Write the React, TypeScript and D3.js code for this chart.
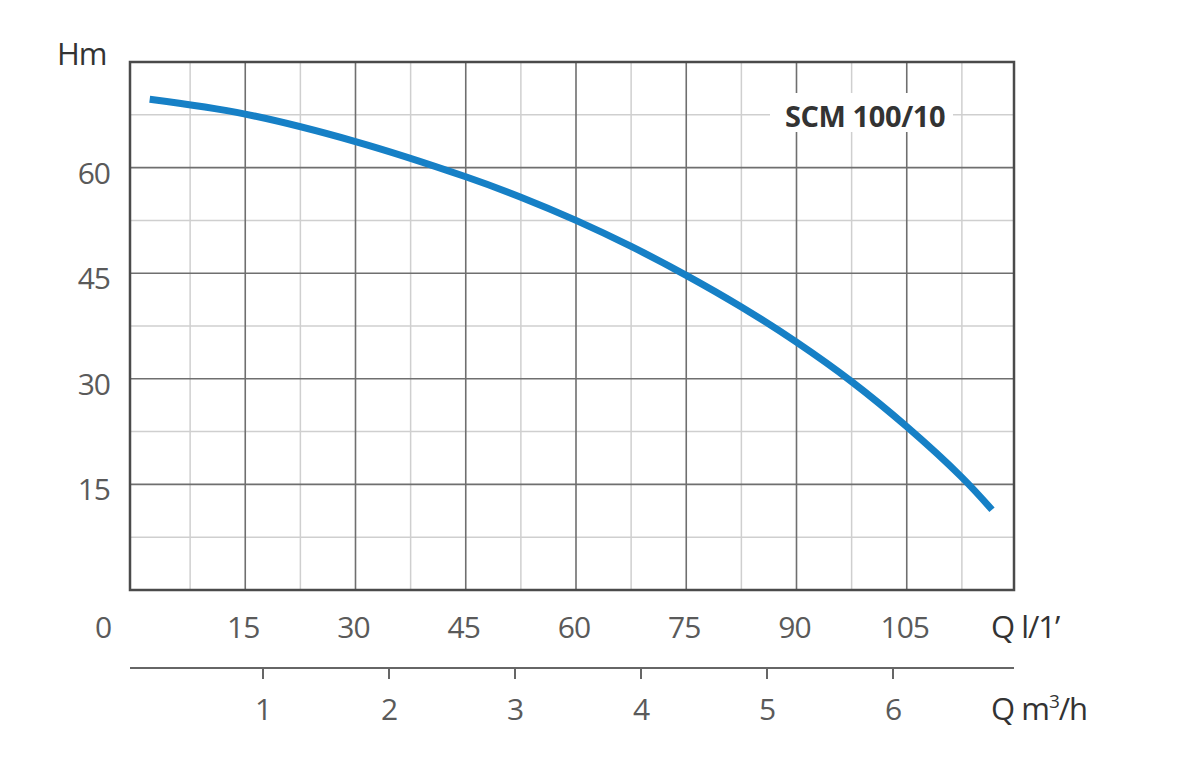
import React, { useEffect, useRef } from "react";
import * as d3 from "d3";

// pump curve: flow in l/min, head in m
const flowLmin = [2, 15, 30, 45, 52.5, 60, 67.5, 75, 82.5, 90, 97.5, 105, 112.5, 116.6];
const headM = [69.7, 67.6, 63.7, 58.7, 55.8, 52.5, 48.8, 44.7, 40.2, 35.2, 29.6, 23.2, 16.0, 11.4];

const xTicks = [15, 30, 45, 60, 75, 90, 105];
const yTicks = [15, 30, 45, 60];
const m3hTicks = [1, 2, 3, 4, 5, 6];
const modelName = "SCM 100/10";

const W = 1200;
const H = 781;
// frame of the plot
const left = 130;
const right = 1014;
const top = 62;
const bottom = 590;

const FONT = "'Open Sans', 'DejaVu Sans', sans-serif";

const App: React.FC = () => {
  const svgRef = useRef<SVGSVGElement>(null);

  useEffect(() => {
    if (!svgRef.current) return;
    const svg = d3.select(svgRef.current);
    svg.selectAll("*").remove();

    // grid in the original starts a few px right of the frame
    const x = d3.scaleLinear().domain([0, 120]).range([135, 1017]);
    const y = d3.scaleLinear().domain([0, 75]).range([bottom, top]);
    const xm = d3.scaleLinear().domain([0, 7]).range([137, 1019]);

    svg.append("rect").attr("width", W).attr("height", H).attr("fill", "#fff");

    const grid = svg.append("g");
    // minor lines
    d3.range(7.5, 120, 15).forEach(v => {
      grid.append("line")
        .attr("x1", x(v)).attr("x2", x(v)).attr("y1", top).attr("y2", bottom)
        .attr("stroke", "#cfcfcf").attr("stroke-width", 1.5);
    });
    d3.range(7.5, 75, 15).forEach(v => {
      grid.append("line")
        .attr("x1", left).attr("x2", right).attr("y1", y(v)).attr("y2", y(v))
        .attr("stroke", "#cfcfcf").attr("stroke-width", 1.5);
    });
    // major lines
    d3.range(15, 120, 15).forEach(v => {
      grid.append("line")
        .attr("x1", x(v)).attr("x2", x(v)).attr("y1", top).attr("y2", bottom)
        .attr("stroke", "#6f6f6f").attr("stroke-width", 1.6);
    });
    d3.range(15, 75, 15).forEach(v => {
      grid.append("line")
        .attr("x1", left).attr("x2", right).attr("y1", y(v)).attr("y2", y(v))
        .attr("stroke", "#6f6f6f").attr("stroke-width", 1.6);
    });

    // white box behind the model name
    svg.append("rect")
      .attr("x", 770).attr("y", 93).attr("width", 183).attr("height", 39)
      .attr("fill", "#fff");
    svg.append("text")
      .attr("x", 865).attr("y", 127)
      .attr("text-anchor", "middle")
      .attr("font-family", FONT).attr("font-weight", 700).attr("font-size", 29)
      .attr("letter-spacing", -0.4)
      .attr("fill", "#333")
      .text(modelName);

    // frame
    svg.append("rect")
      .attr("x", left).attr("y", top)
      .attr("width", right - left).attr("height", bottom - top)
      .attr("fill", "none").attr("stroke", "#4a4a4a").attr("stroke-width", 2.5);

    // curve
    const pts = flowLmin.map((q, i) => [q, headM[i]] as [number, number]);
    const line = d3.line<[number, number]>()
      .x(d => x(d[0]))
      .y(d => y(d[1]))
      .curve(d3.curveCatmullRom);
    svg.append("path")
      .attr("d", line(pts))
      .attr("fill", "none")
      .attr("stroke", "#1680c6")
      .attr("stroke-width", 7);

    const label = (sel: d3.Selection<SVGTextElement, unknown, null, undefined>) =>
      sel.attr("font-family", FONT).attr("font-size", 30).attr("letter-spacing", -1).attr("fill", "#5a5a5a");

    // y tick labels
    yTicks.forEach(v => {
      svg.append("text")
        .attr("x", 110).attr("y", y(v) + 16)
        .attr("text-anchor", "end")
        .call(label)
        .text(String(v));
    });
    svg.append("text")
      .attr("x", 57).attr("y", 65)
      .attr("font-family", FONT).attr("font-size", 31).attr("fill", "#333")
      .attr("letter-spacing", -1)
      .text("Hm");

    // x tick labels (l/min)
    svg.append("text")
      .attr("x", 103).attr("y", 638)
      .attr("text-anchor", "middle")
      .call(label)
      .text("0");
    xTicks.forEach(v => {
      svg.append("text")
        .attr("x", x(v) - 2).attr("y", 638)
        .attr("text-anchor", "middle")
        .call(label)
        .text(String(v));
    });
    svg.append("text")
      .attr("x", 991).attr("y", 638)
      .attr("font-family", FONT).attr("font-size", 31).attr("fill", "#333")
      .attr("letter-spacing", -1)
      .text("Q l/1\u2019");

    // second axis (m3/h)
    svg.append("line")
      .attr("x1", left).attr("x2", right).attr("y1", 668).attr("y2", 668)
      .attr("stroke", "#666").attr("stroke-width", 2);
    m3hTicks.forEach(v => {
      svg.append("line")
        .attr("x1", xm(v)).attr("x2", xm(v)).attr("y1", 668).attr("y2", 679)
        .attr("stroke", "#666").attr("stroke-width", 2);
      svg.append("text")
        .attr("x", xm(v)).attr("y", 720)
        .attr("text-anchor", "middle")
        .call(label)
        .text(String(v));
    });
    const unit = svg.append("text")
      .attr("x", 991).attr("y", 720)
      .attr("font-family", FONT).attr("font-size", 31).attr("fill", "#333")
      .attr("letter-spacing", -1);
    unit.append("tspan").text("Q m");
    unit.append("tspan").attr("font-size", 19).attr("dy", -12).text("3");
    unit.append("tspan").attr("dy", 12).text("/h");
  }, []);

  return (
    <div style={{ position: "absolute", left: 0, top: 0, width: W, height: H }}>
      <svg ref={svgRef} width={W} height={H} />
    </div>
  );
};

export default App;
